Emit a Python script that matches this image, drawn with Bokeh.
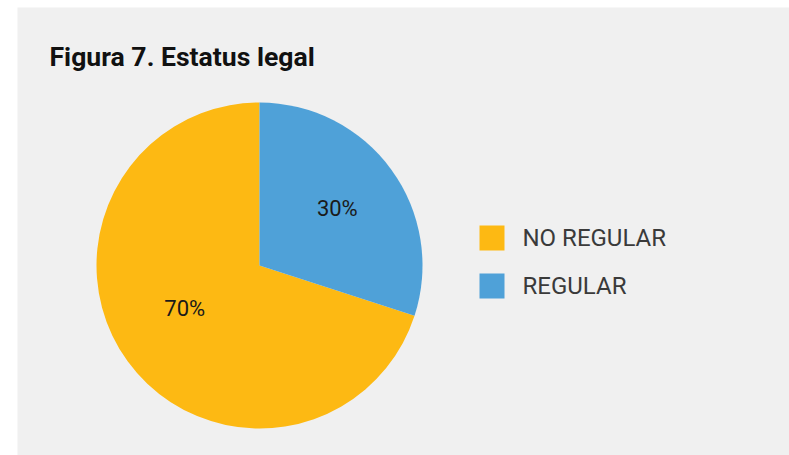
import math
from bokeh.plotting import figure
from bokeh.models import Range1d, ColumnDataSource
from bokeh.core.properties import value
from bokeh.embed import file_html
from bokeh.resources import INLINE

# Data
categories = ["NO REGULAR", "REGULAR"]
percents = [70, 30]
colors = ["#fdb913", "#4fa1d8"]
title_text = "Figura 7. Estatus legal"

# Angles: REGULAR starts at top, going clockwise; NO REGULAR fills the rest
total = sum(percents)
top = math.pi / 2
reg_span = 2 * math.pi * percents[1] / total
starts = [top, top - reg_span]
ends = [top - reg_span + 2 * math.pi, top]

W, H = 789, 455
p = figure(width=W, height=H, output_backend="svg", toolbar_location=None,
           x_range=Range1d(17, 789), y_range=Range1d(0, 448),
           min_border_left=17, min_border_right=0, min_border_top=7, min_border_bottom=0,
           background_fill_color="#f0f0f0", border_fill_color="white")
p.axis.visible = False
p.grid.visible = False
p.outline_line_color = None

def sy(y):
    return 455 - y

cx, cy, r = 259, sy(265), 163
src = ColumnDataSource(dict(start=starts, end=ends, color=colors, cat=categories))
p.wedge(x=cx, y=cy, radius=r, start_angle="start", end_angle="end",
        color="color", line_color=None, source=src)

# Slice labels near mid-angle
lab_r = [0.53, 0.59]
lab_shift = [math.radians(-6), 0.0]
mids = [(s + e) / 2 + d for s, e, d in zip(starts, ends, lab_shift)]
lx = [cx + f * r * math.cos(m) for f, m in zip(lab_r, mids)]
ly = [cy + f * r * math.sin(m) for f, m in zip(lab_r, mids)]
lab = [f"{v}%" for v in percents]
p.text(x=lx, y=ly, text=lab, text_align="center", text_baseline="middle",
       text_font=value("Roboto"), text_font_size="22px", text_color="#1a1a1a")

# Title
p.text(x=[49], y=[sy(56)], text=[title_text], text_align="left", text_baseline="alphabetic",
       text_font=value("Roboto"), text_font_style="bold", text_font_size="26.6px",
       text_color="#111111")

# Legend
leg_x = 491.5
leg_y = [sy(237.5), sy(285.5)]
p.rect(x=[leg_x] * 2, y=leg_y, width=25, height=25, width_units="screen",
       height_units="screen", color=colors, line_color=None)
p.text(x=[522] * 2, y=leg_y, text=categories, text_align="left", text_baseline="middle",
       text_font=value("Roboto"), text_font_size="24px", text_color="#3a3a3a")

open("out.html", "w").write(file_html(p, INLINE))
